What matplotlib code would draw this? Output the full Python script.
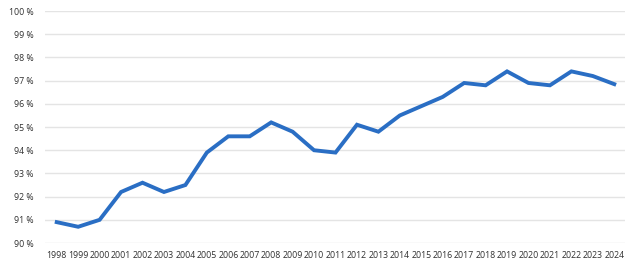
import matplotlib
matplotlib.use("Agg")
import matplotlib.pyplot as plt

years = list(range(1998, 2025))
values = [90.9, 90.7, 91.0, 92.2, 92.6, 92.2, 92.5, 93.9, 94.6, 94.6, 95.2, 94.8,
          94.0, 93.9, 95.1, 94.8, 95.5, 95.9, 96.3, 96.9, 96.8, 97.4, 96.9, 96.8,
          97.4, 97.2, 96.85]
yticks = list(range(90, 101))
ytick_labels = [f"{v} %" for v in yticks]

plt.rcParams['font.family'] = ['Open Sans', 'DejaVu Sans']

fig = plt.figure(figsize=(6.42, 2.64), dpi=100)
ax = fig.add_axes([0.070, 0.0795, 0.9035, 0.8785])
ax.plot(years, values, color='#2A6EC4', lw=2.8, solid_joinstyle='miter', zorder=3)
ax.set_ylim(90, 100)
ax.set_xlim(1997.45, 2024.5)
ax.set_yticks(yticks)
ax.set_yticklabels(ytick_labels)
ax.set_xticks(years)
ax.set_xticklabels([str(y) for y in years])
ax.tick_params(axis='both', length=0, labelsize=6.3, colors='#303030')
ax.tick_params(axis='y', pad=8)
ax.tick_params(axis='x', pad=6)
ax.grid(axis='y', color='#E4E4E4', lw=1.0)
ax.set_axisbelow(True)
for s in ax.spines.values():
    s.set_visible(False)
fig.savefig("out.png", dpi=100)
